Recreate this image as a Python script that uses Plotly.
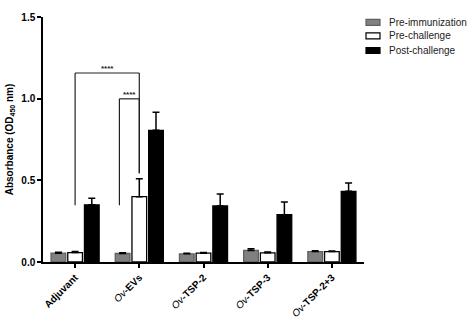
import plotly.graph_objects as go

categories = ["Adjuvant", "Ov-EVs", "Ov-TSP-2", "Ov-TSP-3", "Ov-TSP-2+3"]
tick_text = [
    "<b>Adjuvant</b>",
    "<i>Ov</i><b>-EVs</b>",
    "<i>Ov</i><b>-TSP-2</b>",
    "<i>Ov</i><b>-TSP-3</b>",
    "<i>Ov</i><b>-TSP-2+3</b>",
]
series_names = ["Pre-immunization", "Pre-challenge", "Post-challenge"]
pre_imm = [0.054, 0.052, 0.050, 0.071, 0.064]
pre_imm_err = [0.005, 0.005, 0.004, 0.010, 0.005]
pre_chal = [0.058, 0.40, 0.054, 0.056, 0.064]
pre_chal_err = [0.007, 0.11, 0.004, 0.005, 0.004]
post_chal = [0.35, 0.806, 0.343, 0.29, 0.433]
post_chal_err = [0.04, 0.111, 0.074, 0.078, 0.051]

y_ticks = [0.0, 0.5, 1.0, 1.5]
y_tick_text = ["0.0", "0.5", "1.0", "1.5"]

# significance brackets: (x_left, x_right, y_top, y_left_bottom, y_right_bottom, label)
brackets = [
    (0.0, 1.0, 1.157, 0.347, 0.544, "****"),
    (0.69, 1.0, 0.999, 0.347, 0.544, "****"),
]

fill_colors = ["#808080", "#ffffff", "#000000"]
line_colors = ["#606060", "#000000", "#000000"]
values = [pre_imm, pre_chal, post_chal]
errors = [pre_imm_err, pre_chal_err, post_chal_err]

W, H = 474, 325
ML, MR, MT, MB = 43, 110, 17, 63
PW, PH = W - ML - MR, H - MT - MB

def px_x(px):
    return (px - ML) / PW

def px_y(py):
    return 1 - (py - MT) / PH

fig = go.Figure()
for name, v, e, fc, lc in zip(series_names, values, errors, fill_colors, line_colors):
    fig.add_trace(go.Bar(
        x=categories, y=v, name=name, showlegend=False,
        marker=dict(color=fc, line=dict(color=lc, width=1.3)),
        error_y=dict(type="data", array=e, arrayminus=[0] * len(e), symmetric=False,
                     color="#000000", thickness=1.5, width=3.5),
    ))

for xl, xr, yt, ylb, yrb, lab in brackets:
    fig.add_shape(type="line", xref="x", yref="y", x0=xl, x1=xl, y0=ylb, y1=yt,
                  line=dict(color="#222222", width=1.2))
    fig.add_shape(type="line", xref="x", yref="y", x0=xl, x1=xr, y0=yt, y1=yt,
                  line=dict(color="#222222", width=1.2))
    fig.add_shape(type="line", xref="x", yref="y", x0=xr, x1=xr, y0=yrb, y1=yt,
                  line=dict(color="#222222", width=1.2))
    fig.add_annotation(x=(xl + xr) / 2, y=yt, xref="x", yref="y", text="<b>" + lab + "</b>",
                       showarrow=False, yanchor="bottom", yshift=-2,
                       font=dict(size=8, color="#222222", family="Arial, Liberation Sans"))

# legend (drawn in paper coordinates)
legend_rows_px = [22.3, 35.8, 50.5]
for name, fc, lc, ry in zip(series_names, fill_colors, line_colors, legend_rows_px):
    fig.add_shape(type="rect", xref="paper", yref="paper",
                  x0=px_x(366), x1=px_x(380), y0=px_y(ry + 3), y1=px_y(ry - 3),
                  fillcolor=fc, line=dict(color=lc if fc != "#000000" else "#000000", width=1.2))
    fig.add_annotation(x=px_x(386.5), y=px_y(ry), xref="paper", yref="paper", text=name,
                       showarrow=False, xanchor="left", yanchor="middle",
                       font=dict(size=10, color="#222222", family="Arial, Liberation Sans"))

fig.update_layout(
    width=W, height=H,
    margin=dict(l=ML, r=MR, t=MT, b=MB, autoexpand=False),
    paper_bgcolor="white", plot_bgcolor="white",
    barmode="group", bargap=0.22, bargroupgap=0.12,
    font=dict(family="Arial, Liberation Sans", color="#000000"),
    showlegend=False,
    xaxis=dict(
        range=[-0.5, 4.5], tickmode="array", tickvals=list(range(len(categories))),
        ticktext=tick_text, tickangle=-45, showline=True, linecolor="#000000", linewidth=1.5,
        ticks="outside", ticklen=4, tickwidth=1.5, tickcolor="#000000", automargin=False,
        tickfont=dict(size=10, family="Arial, Liberation Sans", color="#000000"),
        showgrid=False, zeroline=False,
    ),
    yaxis=dict(
        range=[0, 1.5], tickmode="array", tickvals=y_ticks, ticktext=["<b>" + t + "</b>" for t in y_tick_text],
        showline=True, linecolor="#000000", linewidth=1.5, automargin=False,
        ticks="outside", ticklen=4, tickwidth=1.5, tickcolor="#000000",
        tickfont=dict(size=10, family="Arial, Liberation Sans", color="#000000"),
        showgrid=False, zeroline=False,
        title=dict(text="<b>Absorbance (OD<sub>450</sub> nm)</b>",
                   font=dict(size=10, family="Arial, Liberation Sans", color="#000000"), standoff=6),
    ),
)
fig.update_xaxes(categoryorder="array", categoryarray=categories)

fig.write_html("out.html")
